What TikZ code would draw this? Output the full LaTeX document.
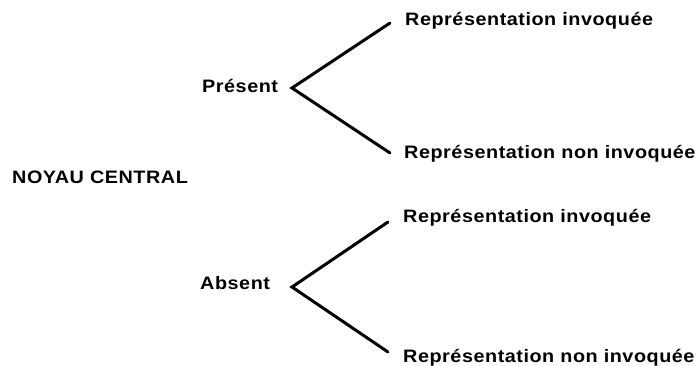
\documentclass[tikz,border=0pt]{standalone}
\usepackage{fontspec}
\setmainfont{Liberation Sans}[FakeStretch=1.1,LetterSpace=3]
\begin{document}
\begin{tikzpicture}[x=1pt,y=-1pt,
  lbl/.style={font=\bfseries\fontsize{18}{20}\selectfont, inner sep=0pt, anchor=base west},
  branch/.style={line width=3pt, line cap=round, line join=miter}]
\useasboundingbox (0,0) rectangle (696,365);
% root
\node[lbl] (noyau) at (12,183) {NOYAU CENTRAL};
% upper group
\node[lbl] (present) at (202,92) {Présent};
\coordinate (pv) at (292,88);
\node[lbl] (pi) at (405,25) {Représentation invoquée};
\node[lbl] (pn) at (404,158) {Représentation non invoquée};
\draw[branch] ([xshift=-15pt,yshift=2pt]pi.base west) -- (pv) -- ([xshift=-14pt,yshift=5pt]pn.base west);
% lower group
\node[lbl] (absent) at (200,289) {Absent};
\coordinate (av) at (292,287);
\node[lbl] (ai) at (403,222) {Représentation invoquée};
\node[lbl] (an) at (403,362) {Représentation non invoquée};
\draw[branch] ([xshift=-15pt,yshift=0pt]ai.base west) -- (av) -- ([xshift=-15pt,yshift=10pt]an.base west);
\end{tikzpicture}
\end{document}
